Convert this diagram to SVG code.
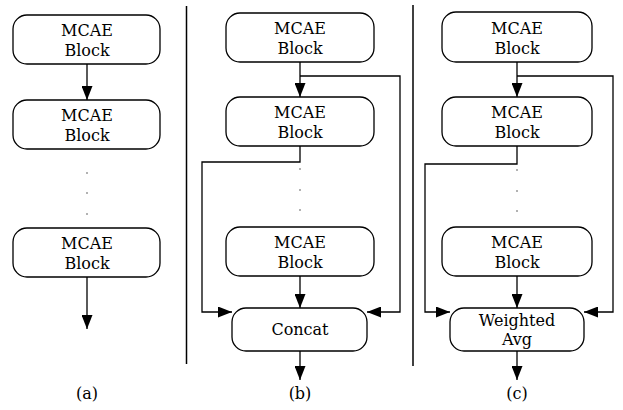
<svg xmlns="http://www.w3.org/2000/svg" width="623" height="410" viewBox="0 0 623 410">
<style>
.box{fill:#fff;stroke:#000;stroke-width:1.3}
text{font-family:"DejaVu Serif","Liberation Serif","Times New Roman",serif;font-size:16px;fill:#000;text-anchor:middle}
.c{fill:none;stroke:#000;stroke-width:1.3}
.dot{fill:#999}
.div{stroke:#000;stroke-width:1.5}
</style>
<defs>
<marker id="ah" markerWidth="14" markerHeight="11" refX="14" refY="5.5" orient="auto" markerUnits="userSpaceOnUse" viewBox="0 0 14 11">
<path d="M0,0 L14,5.5 L0,11 Z" fill="#000"/>
</marker>
</defs>
<rect width="623" height="410" fill="#fff"/>
<g id="dividers">
<line class="div" x1="186.5" y1="6" x2="186.5" y2="364"/>
<line class="div" x1="413" y1="5" x2="413" y2="366"/>
</g>
<g id="connectors">
<line class="c" x1="87" y1="64" x2="87" y2="100" marker-end="url(#ah)"/>
<line class="c" x1="87" y1="277" x2="87" y2="329" marker-end="url(#ah)"/>
<line class="c" x1="300" y1="62" x2="300" y2="97" marker-end="url(#ah)"/>
<polyline class="c" points="300,76 400,76 400,312 367,312" marker-end="url(#ah)"/>
<polyline class="c" points="300,146 300,162 202,162 202,312 232,312" marker-end="url(#ah)"/>
<line class="c" x1="300" y1="276" x2="300" y2="308" marker-end="url(#ah)"/>
<line class="c" x1="300" y1="351" x2="300" y2="380" marker-end="url(#ah)"/>
<line class="c" x1="517" y1="62" x2="517" y2="97" marker-end="url(#ah)"/>
<polyline class="c" points="517,76 613,76 613,312 584,312" marker-end="url(#ah)"/>
<polyline class="c" points="517,146 517,164 425,164 425,312 450,312" marker-end="url(#ah)"/>
<line class="c" x1="517" y1="276" x2="517" y2="308" marker-end="url(#ah)"/>
<line class="c" x1="517" y1="351" x2="517" y2="380" marker-end="url(#ah)"/>
</g>
<g id="dots">
<circle class="dot" cx="87" cy="173" r="1"/><circle class="dot" cx="87" cy="193" r="1"/><circle class="dot" cx="87" cy="214" r="1"/>
<circle class="dot" cx="300" cy="169" r="1"/><circle class="dot" cx="300" cy="190" r="1"/><circle class="dot" cx="300" cy="210" r="1"/>
<circle class="dot" cx="517" cy="170" r="1"/><circle class="dot" cx="517" cy="191" r="1"/><circle class="dot" cx="517" cy="211" r="1"/>
</g>
<g id="a1"><rect class="box" x="13" y="15" width="147" height="49" rx="14"/><text x="87" y="36">MCAE</text><text x="87" y="56">Block</text></g>
<g id="a2"><rect class="box" x="13" y="100" width="147" height="49" rx="14"/><text x="87" y="121">MCAE</text><text x="87" y="141">Block</text></g>
<g id="a3"><rect class="box" x="13" y="228" width="147" height="49" rx="14"/><text x="87" y="249">MCAE</text><text x="87" y="269">Block</text></g>
<g id="b1"><rect class="box" x="226" y="13" width="148" height="49" rx="14"/><text x="300" y="34">MCAE</text><text x="300" y="54">Block</text></g>
<g id="b2"><rect class="box" x="226" y="97" width="148" height="49" rx="14"/><text x="300" y="118">MCAE</text><text x="300" y="138">Block</text></g>
<g id="b3"><rect class="box" x="226" y="227" width="148" height="49" rx="14"/><text x="300" y="248">MCAE</text><text x="300" y="268">Block</text></g>
<g id="b4"><rect class="box" x="232" y="308" width="135" height="43" rx="14"/><text x="300" y="335">Concat</text></g>
<g id="c1"><rect class="box" x="442" y="12" width="150" height="50" rx="14"/><text x="517" y="34">MCAE</text><text x="517" y="54">Block</text></g>
<g id="c2"><rect class="box" x="442" y="97" width="150" height="49" rx="14"/><text x="517" y="118">MCAE</text><text x="517" y="138">Block</text></g>
<g id="c3"><rect class="box" x="442" y="227" width="150" height="49" rx="14"/><text x="517" y="248">MCAE</text><text x="517" y="268">Block</text></g>
<g id="c4"><rect class="box" x="450" y="308" width="134" height="43" rx="14"/><text x="517" y="326">Weighted</text><text x="517" y="345">Avg</text></g>
<g id="labels">
<text x="87" y="399">(a)</text>
<text x="300" y="399">(b)</text>
<text x="517" y="399">(c)</text>
</g>
</svg>
